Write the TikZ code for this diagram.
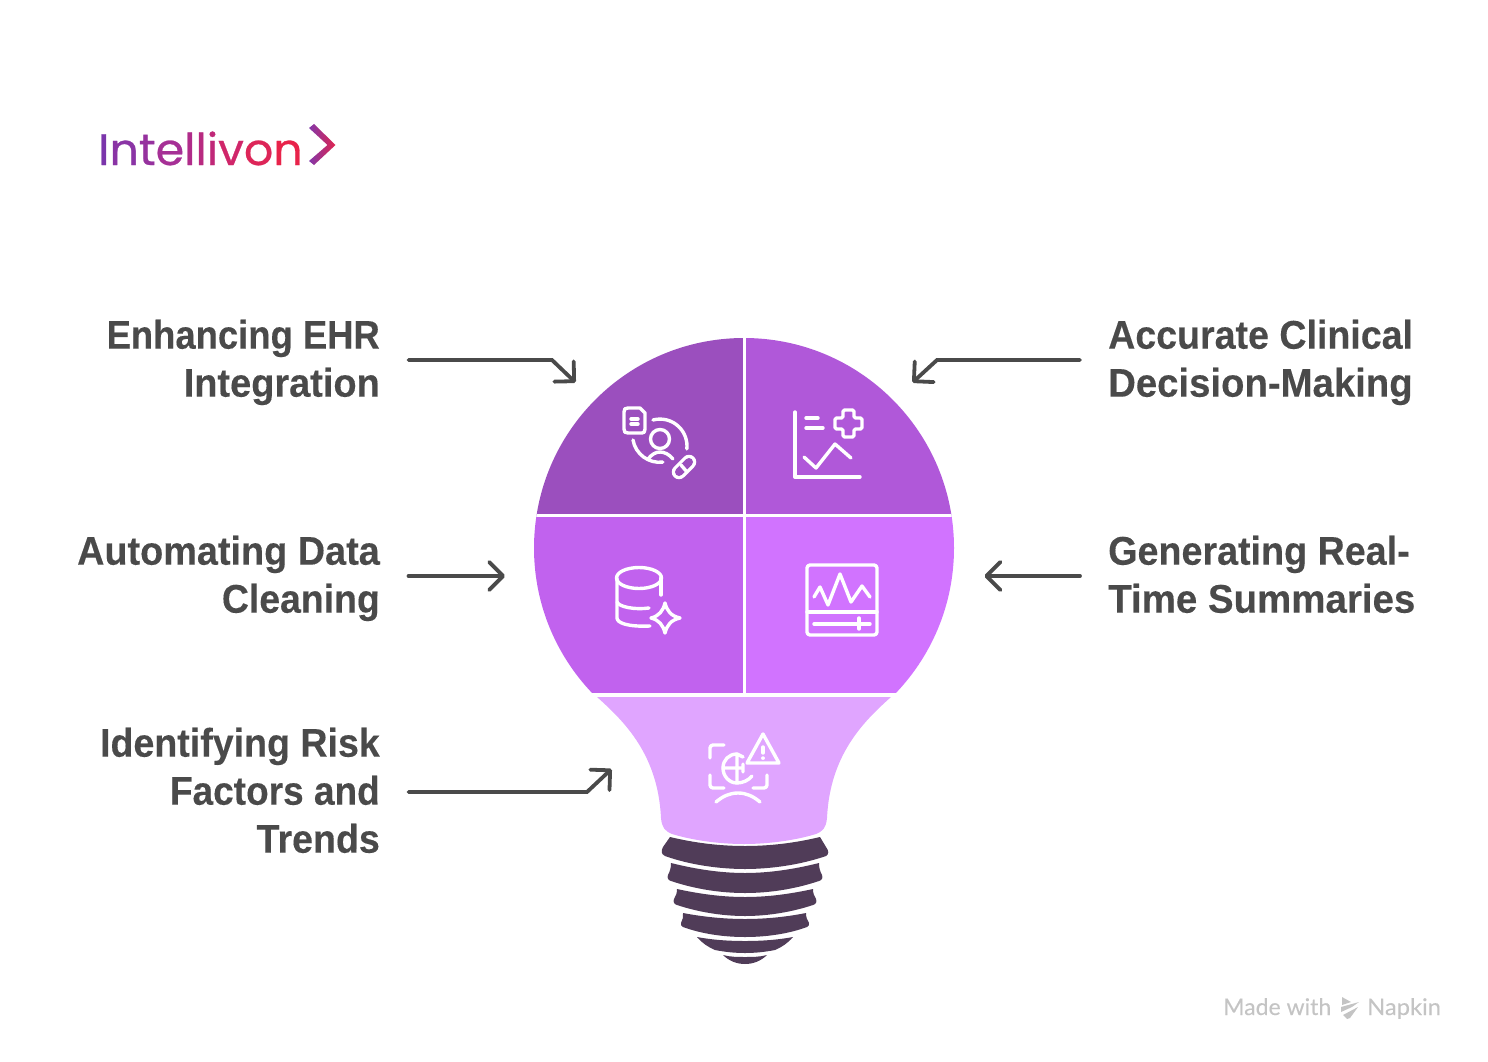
\documentclass[tikz,border=0pt]{standalone}
\usepackage{fontspec}
\usetikzlibrary{arrows.meta}
\setmainfont{Liberation Sans}
\newfontfamily\labelfont[FakeStretch=0.93,FakeBold=0.25]{Liberation Sans Bold}
\newfontfamily\logofont[FakeBold=0.6]{Poppins}
\newfontfamily\markfont[FakeBold=0.2]{Lato}
\newcommand{\hs}[2]{\scalebox{#1}[1]{#2}}
\definecolor{qTL}{HTML}{9B4FBE}
\definecolor{qTR}{HTML}{B058D9}
\definecolor{qBL}{HTML}{C162EE}
\definecolor{qBR}{HTML}{D173FF}
\definecolor{neckc}{HTML}{E0A5FF}
\definecolor{basec}{HTML}{503C58}
\definecolor{inkc}{HTML}{4A4A4A}
\definecolor{markc}{HTML}{C4C4C4}
\tikzset{
  lab/.style={font=\labelfont\fontsize{40}{48}\selectfont,text=inkc,inner sep=0pt},
  conn/.style={draw=inkc,line width=3.8pt,line cap=round,-{Straight Barb[round,length=14pt,width=28pt,line width=3.8pt]}},
  ico/.style={draw=white,line width=3.4pt,line cap=round,line join=round},
  basepart/.style={fill=basec,draw=none}
}
\begin{document}
\begin{tikzpicture}[x=1pt,y=-1pt]
\useasboundingbox (0,0) rectangle (1488,1062);
% logo
\node[anchor=base west,inner sep=0pt,font=\logofont\fontsize{44}{44}\selectfont] (logo) at (98,165)
 {\hs{1.045}{\textcolor[HTML]{7B35AB}{I}\textcolor[HTML]{8A34A5}{n}\textcolor[HTML]{96329E}{t}\textcolor[HTML]{A63096}{e}\textcolor[HTML]{B02C8A}{l}\textcolor[HTML]{B82A80}{l}\textcolor[HTML]{C02878}{i}\textcolor[HTML]{D0266A}{v}\textcolor[HTML]{DD2558}{o}\textcolor[HTML]{E8234A}{n}}};
\path[left color={rgb,255:red,130;green,56;blue,170},right color={rgb,255:red,224;green,36;blue,78}]
 (309,128) -- (314,124) -- (335.5,145) -- (314,165) -- (309,161) -- (327.5,145) -- cycle;
% bulb quadrants
\begin{scope}
\clip (744,548) circle[radius=210pt];
\fill[qTL] (530,335) rectangle (744,515);
\fill[qTR] (744,335) rectangle (960,515);
\fill[qBL] (530,515) rectangle (744,693);
\fill[qBR] (744,515) rectangle (960,693);
\draw[white,line width=3pt] (744.5,330) -- (744.5,694);
\draw[white,line width=3pt] (525,515.5) -- (960,515.5);
\end{scope}
% neck
\fill[neckc] (597,697) .. controls (625,722) and (658,755) .. (661,818)
 .. controls (662,828) and (665,831) .. (672,834)
 .. controls (695,841) and (722,844) .. (744,844)
 .. controls (766,844) and (793,841) .. (816,834)
 .. controls (823,831) and (826,828) .. (827,818)
 .. controls (830,755) and (863,722) .. (891,697) -- cycle;
% base
\fill[basepart] (670,837) .. controls (695,843) and (720,846) .. (745,846) .. controls (770,846) and (795,843) .. (820,837)
 -- (826,847) .. controls (829,851) and (829,854) .. (826,856) .. controls (800,865) and (770,869) .. (745,869)
 .. controls (720,869) and (690,865) .. (665,856) .. controls (661,854) and (661,851) .. (663,847) -- cycle;
\fill[basepart] (671,863) .. controls (695,869) and (720,873) .. (745,873) .. controls (770,873) and (795,869) .. (819,863)
 .. controls (819,868) and (820,871) .. (822,875) .. controls (823,878) and (822,880) .. (819,881) .. controls (795,889) and (770,893) .. (745,893)
 .. controls (720,893) and (695,889) .. (671,881) .. controls (668,880) and (667,878) .. (668,875) .. controls (670,871) and (671,868) .. (671,863) -- cycle;
\fill[basepart] (677,889) .. controls (700,894) and (722,897) .. (745,897) .. controls (768,897) and (790,894) .. (813,889)
 .. controls (813,893) and (814,896) .. (816,899) .. controls (817,902) and (816,904) .. (813,905) .. controls (792,912) and (768,916) .. (745,916)
 .. controls (722,916) and (698,912) .. (677,905) .. controls (674,904) and (673,902) .. (674,899) .. controls (676,896) and (677,893) .. (677,889) -- cycle;
\fill[basepart] (683,913) .. controls (704,917) and (725,919) .. (745,919) .. controls (765,919) and (786,917) .. (806,913)
 .. controls (806,917) and (807,920) .. (809,923) .. controls (809,925) and (809,926) .. (807,927) .. controls (788,934) and (766,937) .. (745,937)
 .. controls (724,937) and (702,934) .. (683,927) .. controls (681,926) and (681,925) .. (681,923) .. controls (683,920) and (683,917) .. (683,913) -- cycle;
\fill[basepart] (697,937) .. controls (713,940) and (729,941) .. (745,941) .. controls (761,941) and (777,940) .. (793,937)
 .. controls (788,943) and (782,947) .. (775,950) .. controls (765,952) and (755,953) .. (745,953) .. controls (735,953) and (725,952) .. (715,950) .. controls (708,947) and (702,943) .. (697,937) -- cycle;
\fill[basepart] (723,955) .. controls (730,957) and (738,957) .. (745,957) .. controls (752,957) and (760,957) .. (767,955)
 .. controls (761,961) and (753,964) .. (745,964) .. controls (737,964) and (729,961) .. (723,955) -- cycle;
% icon 1
\draw[ico] (628,408) -- (640,408) -- (645,413) -- (645,429) .. controls (645,432) and (644,433) .. (642,433) -- (628,433) .. controls (625,433) and (624,432) .. (624,429) -- (624,412) .. controls (624,409) and (625,408) .. (628,408) -- cycle;
\draw[ico] (631,419) -- (638,419) (631,424) -- (638,424);
\draw[ico] (660,439) circle[radius=9.5pt];
\draw[ico] (648,459) .. controls (652,454) and (656,452) .. (660,452) .. controls (664,452) and (669,454) .. (673,459);
\draw[ico] (653,420) arc[start angle=105,end angle=-6,radius=27pt];
\draw[ico] (633,440) arc[start angle=190,end angle=277,radius=27pt];
\draw[draw=white,line width=14.5pt,line cap=round] (679,472) -- (689,462);
\draw[draw=qTL,line width=8pt,line cap=round] (679,472) -- (689,462);
\draw[ico] (681,465) -- (687,472);
% icon 2
\draw[ico] (795,412) -- (795,477) -- (860,477);
\draw[ico] (806,418) -- (818,418) (806,428) -- (823,428);
\draw[ico] (804,457) -- (816,468) -- (835,444) -- (851,458);
\draw[ico,rounded corners=1.5pt] (843,410) -- (854,410) -- (854,418) -- (862,418) -- (862,429) -- (854,429) -- (854,437) -- (843,437) -- (843,429) -- (835,429) -- (835,418) -- (843,418) -- cycle;
% icon 3
\draw[ico] (639,578) ellipse[x radius=22.5pt,y radius=10.5pt];
\draw[ico] (617,578) -- (617,618) .. controls (617,623) and (628,627) .. (650,626);
\draw[ico] (617,602) .. controls (619,607) and (635,610) .. (649,608);
\draw[ico] (661,578) -- (661,595);
\draw[ico] (665,603) .. controls (667,611) and (671,616) .. (680,618) .. controls (671,620) and (667,625) .. (665,633) .. controls (663,625) and (659,620) .. (651,618) .. controls (659,616) and (663,611) .. (665,603) -- cycle;
% icon 4
\draw[ico,rounded corners=3pt] (807,565) rectangle (877,635);
\draw[ico] (807,612) -- (877,612);
\draw[ico] (814,597) -- (820,587) -- (828,605) -- (840,574) -- (851,602) -- (862,586) -- (870,597);
\draw[ico] (814,624) -- (870,624) (859,618) -- (859,629);
% icon 5
\draw[ico,rounded corners=3pt] (724,745) -- (710,745) -- (710,758);
\draw[ico,rounded corners=3pt] (710,775) -- (710,788) -- (724,788);
\draw[ico,rounded corners=3pt] (767,775) -- (767,788) -- (753,788);
\draw[ico] (737,754) .. controls (729,754) and (723,760) .. (723,768) .. controls (723,776) and (729,783) .. (737,783) .. controls (743,783) and (749,780) .. (752,776);
\draw[ico] (723,768) -- (743,768) (737,754) -- (737,783) (737,754) -- (743,757) (743,764) -- (743,772);
\draw[ico] (763,734) -- (779,763) -- (747,763) -- cycle;
\draw[ico] (763,747) -- (763,753) (763,758) -- (763,758.2);
\draw[ico] (716,802) .. controls (723,796) and (730,793) .. (738,793) .. controls (746,793) and (753,796) .. (760,802);
% labels
\node[lab,anchor=north east,align=right] (l1) at (380,319.5) {\hs{0.979}{Enhancing EHR}\\\hs{1.02}{Integration}};
\node[lab,anchor=north east,align=right] (l2) at (380,535.5) {\hs{1.017}{Automating Data}\\\hs{1.005}{Cleaning}};
\node[lab,anchor=north east,align=right] (l3) at (380,727.5) {\hs{1.01}{Identifying Risk}\\\hs{0.995}{Factors and}\\\hs{1.01}{Trends}};
\node[lab,anchor=north west,align=left] (r1) at (1108,319.5) {\hs{1.01}{Accurate Clinical}\\\hs{1.03}{Decision-Making}};
\node[lab,anchor=north west,align=left] (r2) at (1108,535.5) {\hs{1.013}{Generating Real-}\\\hs{1.034}{Time Summaries}};
% connectors
\coordinate (a1) at (408.5,360); \coordinate (a1b) at (552,360); \coordinate (t1) at (575.5,382.5);
\coordinate (a2) at (408.5,576); \coordinate (t2) at (505,576);
\coordinate (a3) at (408.5,792); \coordinate (a3b) at (587,792); \coordinate (t3) at (611.5,769);
\coordinate (b1) at (1080,360); \coordinate (b1b) at (937,360); \coordinate (u1) at (912.5,382.5);
\coordinate (b2) at (1080,576); \coordinate (u2) at (984.5,576);
\draw[conn] (a1) -- (a1b) -- (t1);
\draw[conn] (a2) -- (t2);
\draw[conn] (a3) -- (a3b) -- (t3);
\draw[conn] (b1) -- (b1b) -- (u1);
\draw[conn] (b2) -- (u2);
% watermark
\node[anchor=base west,inner sep=0pt,font=\markfont\fontsize{23}{23}\selectfont,text=markc] (m1) at (1223,1015) {Made with};
\node[anchor=base west,inner sep=0pt,font=\markfont\fontsize{23}{23}\selectfont,text=markc] (m2) at (1367,1015) {\hs{1.03}{Napkin}};
\fill[markc] (1342,997) -- (1351,1002) -- (1342,1005) -- cycle;
\fill[markc] (1341,1007) -- (1359,1002) -- (1352,1007) -- (1341,1012) -- cycle;
\fill[markc] (1343,1015) -- (1358,1007) -- (1350,1018) -- (1347,1019) -- cycle;
\end{tikzpicture}
\end{document}
